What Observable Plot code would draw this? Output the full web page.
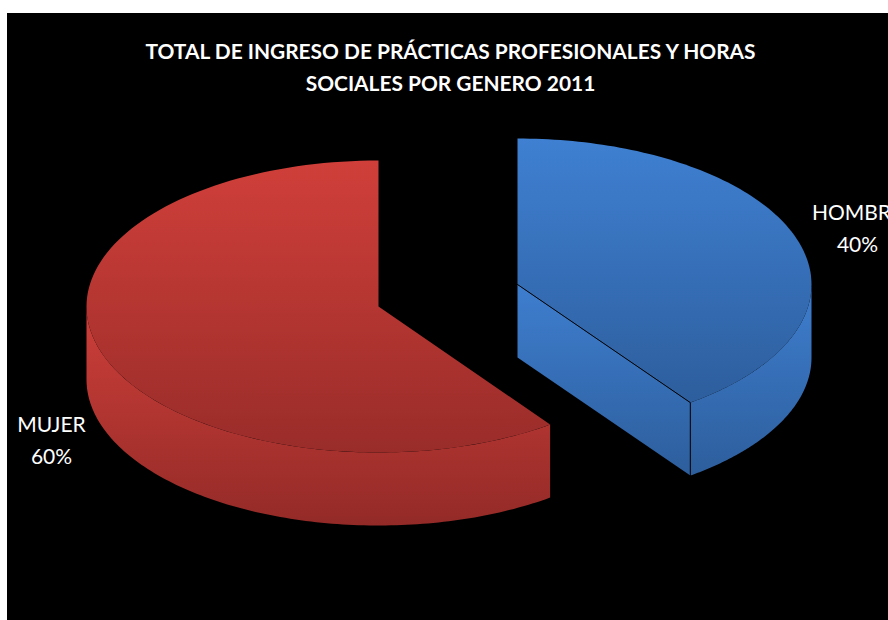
<!DOCTYPE html>
<html>
<head>
<meta charset="utf-8">
<script src="https://cdn.jsdelivr.net/npm/d3@7"></script>
<script src="https://cdn.jsdelivr.net/npm/@observablehq/plot@0.6"></script>
<style>
html,body{margin:0;padding:0;background:#fff;overflow:hidden;width:888px;height:620px}
#chart{position:absolute;left:7px;top:13px;width:881px;height:607px;overflow:hidden;background:#000}
#chart svg{display:block;overflow:hidden}
</style>
</head>
<body>
<div id="chart"></div>
<script>
const titleLines = ["TOTAL DE INGRESO DE PRÁCTICAS PROFESIONALES Y HORAS", "SOCIALES POR GENERO 2011"];
const categories = ["HOMBRE", "MUJER"];
const shares = [40, 60];
const centersX = [517, 378];
const centersY = [284, 306];
const radiiX = [294, 292];
const radiusY = 146, depth = 73;

const arcs = d3.pie().sort(null)(shares);
const point = (i, a, dy = 0) => ({x: centersX[i] + radiiX[i] * Math.sin(a), y: centersY[i] - radiusY * Math.cos(a) + dy});
const sweep = (a0, a1) => d3.range(0, 121).map(k => a0 + (a1 - a0) * k / 120);

function topFace(i) {
  const {startAngle: s, endAngle: e} = arcs[i];
  return [{x: centersX[i], y: centersY[i]}, ...sweep(s, e).map(a => point(i, a))];
}
function wall(i) {
  const {startAngle: s, endAngle: e} = arcs[i];
  const a0 = Math.max(s, Math.PI / 2), a1 = Math.min(e, Math.PI * 3 / 2);
  const ring = sweep(a0, a1);
  return [...ring.map(a => point(i, a)), ...ring.slice().reverse().map(a => point(i, a, depth))];
}
function cutFace(i) {
  const e = arcs[i].endAngle, c = {x: centersX[i], y: centersY[i]};
  return [c, point(i, e), point(i, e, depth), {x: c.x, y: c.y + depth}];
}
const hombreEdge = [{x: centersX[0], y: centersY[0]}, point(0, arcs[0].endAngle), point(0, arcs[0].endAngle, depth)];

const gradient = (id, a, b) => `<linearGradient id="${id}" x1="0" y1="0" x2="0" y2="1"><stop offset="0" stop-color="${a}"/><stop offset="1" stop-color="${b}"/></linearGradient>`;
const defs = () => {
  const g = document.createElementNS("http://www.w3.org/2000/svg", "defs");
  g.innerHTML = gradient("rt", "#D03F3A", "#992C29") + gradient("rw", "#CE3F3A", "#932A27") +
                gradient("bt", "#3F80D2", "#2D5E9D") + gradient("bw", "#3E7ECF", "#2D5E9C");
  return g;
};
const face = (pts, fill) => Plot.line(pts, {x: "x", y: "y", fill, stroke: "none"});
const font = "Lato, Carlito, sans-serif";

const labels = [
  {x: 857, y: 213, t: categories[0]}, {x: 857, y: 245, t: shares[0] + "%"},
  {x: 51, y: 425, t: categories[1]}, {x: 51, y: 457, t: shares[1] + "%"}
];
const titles = titleLines.map((t, i) => ({x: 450, y: 52 + i * 32, t}));

const chart = Plot.plot({
  width: 881, height: 607,
  margin: 0,
  style: {background: "#000"},
  x: {domain: [7, 888], range: [0, 881], axis: null},
  y: {domain: [13, 620], range: [0, 607], axis: null},
  marks: [
    defs,
    face(wall(1), "url(#rw)"),
    face(topFace(1), "url(#rt)"),
    face(cutFace(0), "url(#bw)"),
    face(wall(0), "url(#bw)"),
    face(topFace(0), "url(#bt)"),
    Plot.line(hombreEdge, {x: "x", y: "y", stroke: "#000", strokeWidth: 1}),
    Plot.text(titles, {x: "x", y: "y", text: "t", fill: "#fff", fontSize: 20.9, fontWeight: 700, fontFamily: font}),
    Plot.text(labels, {x: "x", y: "y", text: "t", fill: "#fff", fontSize: 21, fontFamily: font})
  ]
});
document.getElementById("chart").append(chart);
</script>
</body>
</html>
